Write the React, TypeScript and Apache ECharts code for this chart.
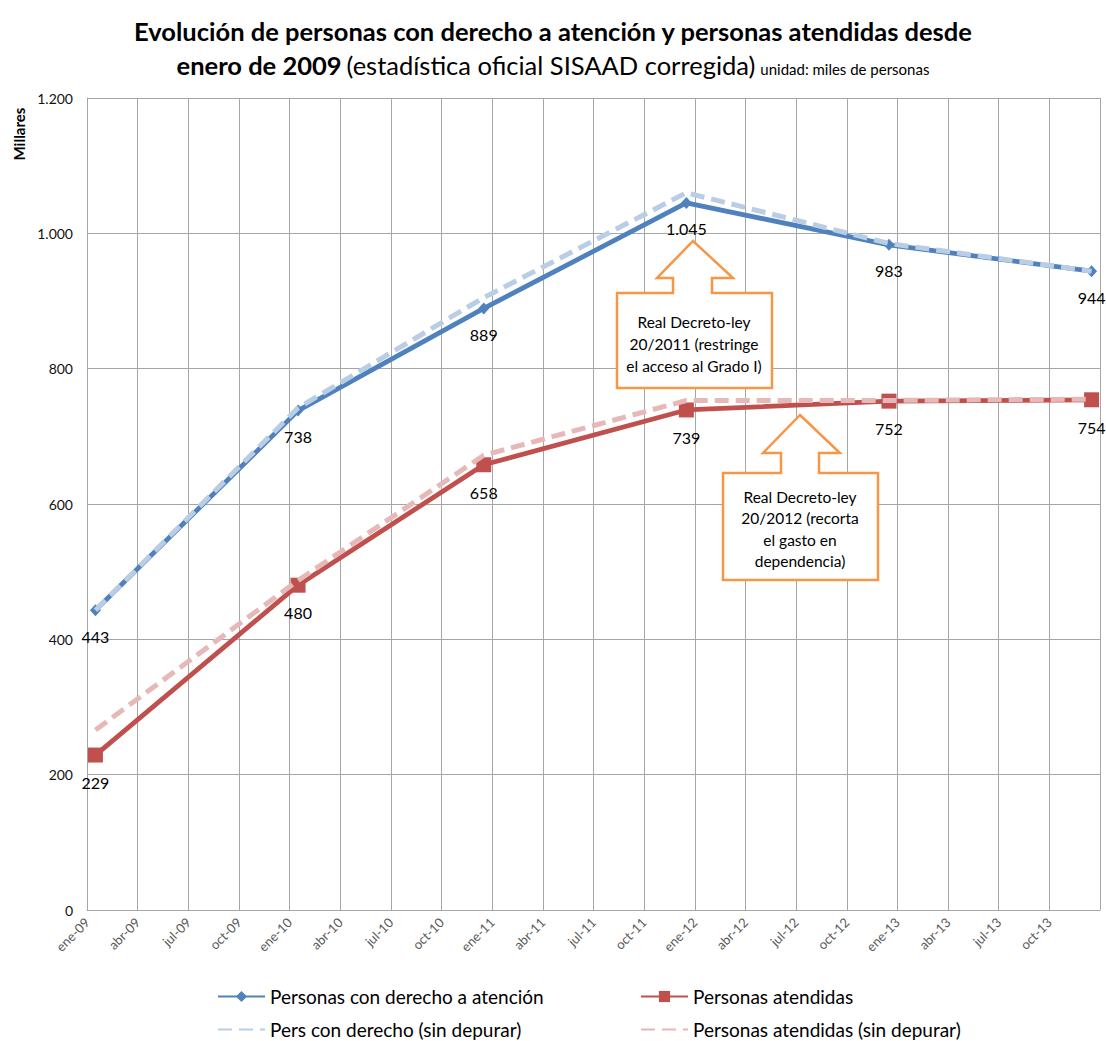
import React, { useEffect, useRef } from "react";
import * as echarts from "echarts";

// ---- Data ----
const pointDates = ["2009-01", "2010-01", "2010-12", "2011-12", "2012-12", "2013-12"];
const personasConDerecho = [443, 738, 889, 1045, 983, 944];
const personasAtendidas = [229, 480, 658, 739, 752, 754];
const persConDerechoSinDepurar = [443, 742, 905, 1060, 985, 944];
const personasAtendidasSinDepurar = [266, 487, 672, 753, 753, 755];

const xTickLabels = [
  "ene-09", "abr-09", "jul-09", "oct-09",
  "ene-10", "abr-10", "jul-10", "oct-10",
  "ene-11", "abr-11", "jul-11", "oct-11",
  "ene-12", "abr-12", "jul-12", "oct-12",
  "ene-13", "abr-13", "jul-13", "oct-13", "",
];

const seriesNames = [
  "Personas con derecho a atención",
  "Personas atendidas",
  "Pers con derecho (sin depurar)",
  "Personas atendidas (sin depurar)",
];

const titleLine1 = "Evolución de personas con derecho a atención y personas atendidas desde";
const titleLine2a = "enero de 2009";
const titleLine2b = "(estadística oficial SISAAD corregida)";
const titleLine2c = "unidad: miles de personas";
const yAxisName = "Millares";
const note1 = "Real Decreto-ley\n20/2011 (restringe\nel acceso al Grado I)";
const note2 = "Real Decreto-ley\n20/2012 (recorta\nel gasto en\ndependencia)";

const FONT = "Lato, 'Open Sans', sans-serif";
const BLUE = "#4F81BD";
const RED = "#C0504D";
const LBLUE = "#B9CDE5";
const LRED = "#E6B9B8";
const ORANGE = "#F79646";
const GRID = "#a6a6a6";

const fmt = (v: number) => String(Math.round(v)).replace(/\B(?=(\d{3})+(?!\d))/g, ".");
const monthPos = (d: string) => {
  const [y, m] = d.split("-").map(Number);
  return (y - 2009) * 12 + (m - 1) + 0.5;
};
const toPairs = (vals: number[]) => vals.map((v, i) => [monthPos(pointDates[i]), v]);

export default function App() {
  const ref = useRef<HTMLDivElement>(null);

  useEffect(() => {
    if (!ref.current) return;
    const chart = echarts.init(ref.current, undefined, { renderer: "svg" });

    const labelCfg = {
      show: true,
      position: "bottom",
      distance: 12,
      fontFamily: FONT,
      fontSize: 16,
      color: "#000",
      formatter: (p: any) => fmt(p.value[1]),
    };

    const legendBase = {
      orient: "horizontal",
      padding: 0,
      itemWidth: 47,
      itemHeight: 14,
      itemGap: 4,
      selectedMode: false,
      textStyle: { fontFamily: FONT, fontSize: 19, color: "#000" },
    };

    const option: any = {
      animation: false,
      backgroundColor: "#fff",
      title: [
        {
          text: titleLine1,
          left: "center",
          top: 13,
          textStyle: { fontFamily: FONT, fontSize: 25.5, fontWeight: "bold", color: "#000" },
        },
        {
          text: `{b|${titleLine2a}} {r|${titleLine2b}} {s|${titleLine2c}}`,
          left: "center",
          top: 47,
          textStyle: {
            fontWeight: "normal",
            rich: {
              b: { fontFamily: FONT, fontSize: 25.5, fontWeight: "bold", color: "#000" },
              r: { fontFamily: FONT, fontSize: 25.5, fontWeight: "normal", color: "#000" },
              s: { fontFamily: FONT, fontSize: 15, fontWeight: "normal", color: "#000", padding: [7, 0, 0, 0] },
            },
          },
        },
      ],
      legend: [
        { ...legendBase, data: [seriesNames[0]], left: 217, top: 987 },
        { ...legendBase, data: [seriesNames[1]], left: 640, top: 987 },
        { ...legendBase, data: [seriesNames[2]], left: 217, top: 1020, itemStyle: { opacity: 0 } },
        { ...legendBase, data: [seriesNames[3]], left: 640, top: 1020, itemStyle: { opacity: 0 } },
      ],
      grid: { left: 87, right: 6, top: 98, bottom: 131, containLabel: false },
      xAxis: {
        type: "value",
        min: 0,
        max: 60,
        interval: 3,
        axisLine: { show: true, lineStyle: { color: GRID, width: 1 } },
        axisTick: { show: false },
        splitLine: { show: true, lineStyle: { color: GRID, width: 1 } },
        axisLabel: {
          rotate: 45,
          margin: 10,
          fontFamily: FONT,
          fontSize: 13,
          color: "#595959",
          showMinLabel: true,
          showMaxLabel: true,
          hideOverlap: false,
          formatter: (v: number) => xTickLabels[Math.round(v / 3)] ?? "",
        },
      },
      yAxis: {
        type: "value",
        min: 0,
        max: 1200,
        interval: 200,
        axisLine: { show: true, lineStyle: { color: GRID, width: 1 } },
        axisTick: { show: false },
        splitLine: { show: true, lineStyle: { color: GRID, width: 1 } },
        axisLabel: {
          margin: 14,
          fontFamily: FONT,
          fontSize: 14,
          color: "#111",
          formatter: (v: number) => fmt(v),
        },
      },
      series: [
        {
          name: seriesNames[0],
          type: "line",
          data: toPairs(personasConDerecho),
          symbol: "diamond",
          symbolSize: [11, 12],
          lineStyle: { color: BLUE, width: 4.8 },
          itemStyle: { color: BLUE },
          label: labelCfg,
          z: 2,
        },
        {
          name: seriesNames[1],
          type: "line",
          data: toPairs(personasAtendidas),
          symbol: "rect",
          symbolSize: 15,
          lineStyle: { color: RED, width: 4.8 },
          itemStyle: { color: RED },
          label: labelCfg,
          z: 2,
        },
        {
          name: seriesNames[2],
          type: "line",
          data: toPairs(persConDerechoSinDepurar),
          symbol: "none",
          lineStyle: { color: LBLUE, width: 5, type: [14, 7] },
          itemStyle: { color: LBLUE },
          z: 3,
        },
        {
          name: seriesNames[3],
          type: "line",
          data: toPairs(personasAtendidasSinDepurar),
          symbol: "none",
          lineStyle: { color: LRED, width: 5, type: [14, 7] },
          itemStyle: { color: LRED },
          z: 3,
        },
      ],
      graphic: [
        {
          type: "text",
          x: 19,
          y: 134,
          rotation: Math.PI / 2,
          style: {
            text: yAxisName,
            fontFamily: FONT,
            fontSize: 15,
            fontWeight: "bold",
            fill: "#000",
            align: "center",
            verticalAlign: "middle",
          },
        },
        {
          type: "polygon",
          z: 100,
          shape: {
            points: [
              [693, 241], [733, 278], [712, 278], [712, 293], [772, 293], [772, 388],
              [617, 388], [617, 293], [673, 293], [673, 278], [657, 278],
            ],
          },
          style: { fill: "#fff", stroke: ORANGE, lineWidth: 2.5 },
        },
        {
          type: "text",
          z: 101,
          x: 694,
          y: 344,
          style: {
            text: note1,
            fontFamily: FONT,
            fontSize: 15.5,
            lineHeight: 22,
            fill: "#000",
            align: "center",
            verticalAlign: "middle",
          },
        },
        {
          type: "polygon",
          z: 100,
          shape: {
            points: [
              [800, 415], [840, 453], [819, 453], [819, 473], [878, 473], [878, 580],
              [723, 580], [723, 473], [781, 473], [781, 453], [763, 453],
            ],
          },
          style: { fill: "#fff", stroke: ORANGE, lineWidth: 2.5 },
        },
        {
          type: "text",
          z: 101,
          x: 800,
          y: 529,
          style: {
            text: note2,
            fontFamily: FONT,
            fontSize: 15.5,
            lineHeight: 21.5,
            fill: "#000",
            align: "center",
            verticalAlign: "middle",
          },
        },
      ],
    };

    chart.setOption(option);
    return () => chart.dispose();
  }, []);

  return (
    <div
      ref={ref}
      style={{ position: "absolute", left: 0, top: 0, width: 1106, height: 1041, background: "#fff" }}
    />
  );
}
